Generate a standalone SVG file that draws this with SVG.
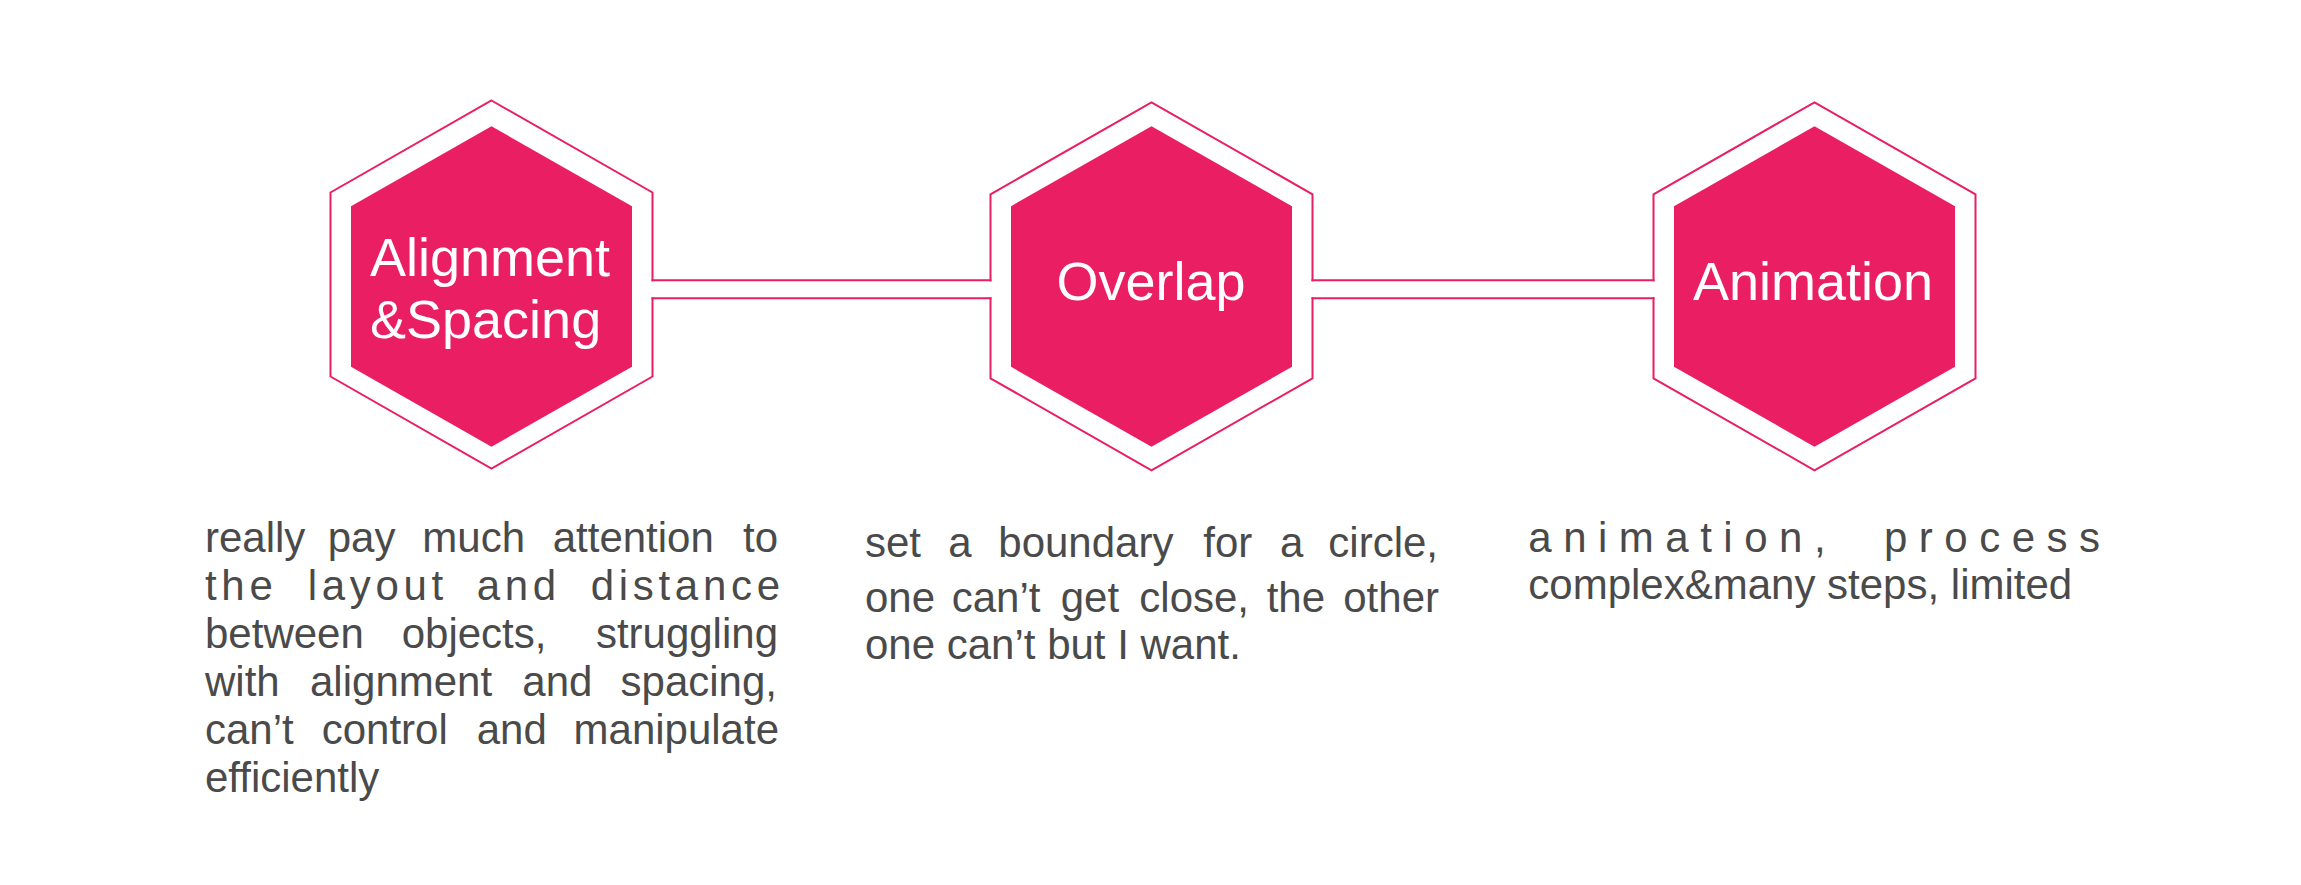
<svg xmlns="http://www.w3.org/2000/svg" xmlns:xlink="http://www.w3.org/1999/xlink" width="2301" height="885" viewBox="0 0 2301 885">
  <style>
    .frame { fill: #ffffff; stroke: #E91E63; stroke-width: 2; }
    .core { fill: #E91E63; }
    .title { font-family: "Liberation Sans", Arial, Helvetica, sans-serif; font-size: 54px; fill: #ffffff; }
    .note { font-family: "Liberation Sans", Arial, Helvetica, sans-serif; font-size: 42px; fill: #4A4A4A; }
    .link { stroke: #E91E63; stroke-width: 2; fill: none; }
    .gap { fill: #ffffff; stroke: none; }
  </style>
  <defs>
    <!-- outer outline hexagon, centred on the origin -->
    <polygon id="hexOuter" points="0,-184 161,-92 161,92 0,184 -161,92 -161,-92"/>
    <!-- solid inner hexagon, centred on the origin -->
    <polygon id="hexInner" points="0,-160.2 140.5,-80.3 140.5,80.3 0,160.2 -140.5,80.3 -140.5,-80.3"/>
  </defs>

  <rect width="2301" height="885" fill="#ffffff"/>

  <!-- nodes -->
  <g id="node-alignment">
    <use xlink:href="#hexOuter" href="#hexOuter" class="frame" x="491.5" y="284.5"/>
    <use xlink:href="#hexInner" href="#hexInner" class="core" x="491.5" y="286.5"/>
    <text class="title" x="370" y="276">Alignment</text>
    <text class="title" x="370" y="338.3">&amp;Spacing</text>
  </g>

  <g id="node-overlap">
    <use xlink:href="#hexOuter" href="#hexOuter" class="frame" x="1151.5" y="286.3"/>
    <use xlink:href="#hexInner" href="#hexInner" class="core" x="1151.5" y="286.5"/>
    <text class="title" x="1151" y="300" text-anchor="middle">Overlap</text>
  </g>

  <g id="node-animation">
    <use xlink:href="#hexOuter" href="#hexOuter" class="frame" x="1814.5" y="286.3"/>
    <use xlink:href="#hexInner" href="#hexInner" class="core" x="1814.5" y="286.5"/>
    <text class="title" x="1813" y="300" text-anchor="middle">Animation</text>
  </g>

  <!-- connectors: a double-ruled bar opening the outlines it joins -->
  <g id="connectors">
    <rect class="gap" x="649" y="281.3" width="345" height="16"/>
    <line class="link" x1="651.5" y1="280.3" x2="991.5" y2="280.3"/>
    <line class="link" x1="651.5" y1="298.3" x2="991.5" y2="298.3"/>
    <rect class="gap" x="1310" y="281.3" width="346" height="16"/>
    <line class="link" x1="1311.5" y1="280.3" x2="1654.5" y2="280.3"/>
    <line class="link" x1="1311.5" y1="298.3" x2="1654.5" y2="298.3"/>
  </g>

  <!-- descriptions under each node -->
  <g id="note-alignment" class="note">
    <text y="552.3"><tspan x="205">really</tspan><tspan x="327.7">pay</tspan><tspan x="422.3">much</tspan><tspan x="552.7">attention</tspan><tspan x="778" text-anchor="end">to</tspan></text>
    <text y="600" letter-spacing="4.7"><tspan x="205">the</tspan><tspan x="307.7">layout</tspan><tspan x="476.7">and</tspan><tspan x="590.7">distance</tspan></text>
    <text y="648"><tspan x="205">between</tspan><tspan x="401.7">objects,</tspan><tspan x="778" text-anchor="end">struggling</tspan></text>
    <text y="696"><tspan x="205">with</tspan><tspan x="310">alignment</tspan><tspan x="522.3">and</tspan><tspan x="777" text-anchor="end">spacing,</tspan></text>
    <text y="744"><tspan x="205">can’t</tspan><tspan x="321.7">control</tspan><tspan x="476.7">and</tspan><tspan x="779" text-anchor="end">manipulate</tspan></text>
    <text y="792" x="205">efficiently</text>
  </g>

  <g id="note-overlap" class="note">
    <text y="557.3"><tspan x="865">set</tspan><tspan x="948.3">a</tspan><tspan x="998.3">boundary</tspan><tspan x="1203.3">for</tspan><tspan x="1280">a</tspan><tspan x="1438" text-anchor="end">circle,</tspan></text>
    <text y="611.7"><tspan x="865">one</tspan><tspan x="951.7">can’t</tspan><tspan x="1060.7">get</tspan><tspan x="1139.3">close,</tspan><tspan x="1266.7">the</tspan><tspan x="1439" text-anchor="end">other</tspan></text>
    <text y="659.3" x="865">one can’t but I want.</text>
  </g>

  <g id="note-animation" class="note">
    <text y="552.3" letter-spacing="11.5"><tspan x="1528.3">animation,</tspan><tspan x="1884">process</tspan></text>
    <text y="599.3" x="1528.3">complex&amp;many steps, limited</text>
  </g>
</svg>
